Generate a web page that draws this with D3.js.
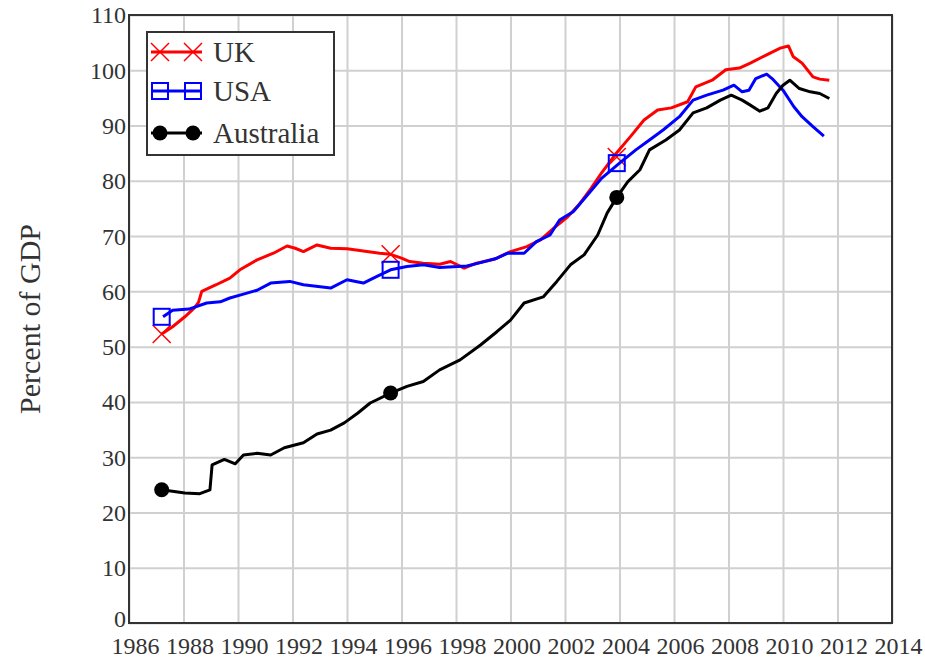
<!DOCTYPE html>
<html>
<head>
<meta charset="utf-8">
<script src="https://cdn.jsdelivr.net/npm/d3@7"></script>
<style>
  body { margin: 0; background: #fff; }
  svg text { font-family: "Liberation Serif", "Times New Roman", serif; fill: #333; }
</style>
</head>
<body>
<div id="viewport"></div>
<script>
// series data [year, percent of GDP]
var ukData = [
  [1987.2, 52.3], [1987.6, 53.6], [1988.05, 55.4], [1988.4, 57.0], [1988.55, 58.0],
  [1988.67, 60.0], [1989.2, 61.2], [1989.7, 62.4], [1990.07, 63.9], [1990.7, 65.7],
  [1991.3, 66.9], [1991.8, 68.2], [1992.1, 67.8], [1992.4, 67.2], [1992.9, 68.4],
  [1993.4, 67.8], [1994.0, 67.7], [1994.6, 67.3], [1995.2, 66.9], [1995.6, 66.7],
  [1996.0, 66.0], [1996.3, 65.4], [1996.8, 65.1], [1997.4, 64.9], [1997.8, 65.4],
  [1998.3, 64.2], [1998.75, 65.1], [1999.4, 65.8], [2000.0, 67.2], [2000.6, 68.1],
  [2001.1, 69.3], [2001.6, 71.5], [2002.1, 73.5], [2002.5, 75.6], [2002.95, 78.6],
  [2003.35, 81.5], [2003.85, 84.8], [2004.4, 88.0], [2004.9, 91.0], [2005.4, 92.8],
  [2005.9, 93.2], [2006.5, 94.3], [2006.8, 97.0], [2007.4, 98.2], [2007.9, 100.1],
  [2008.4, 100.4], [2008.8, 101.3], [2009.4, 102.8], [2009.9, 104.0], [2010.2, 104.4],
  [2010.37, 102.5], [2010.7, 101.3], [2011.1, 98.8], [2011.35, 98.4], [2011.7, 98.2]
];
var usaData = [
  [1987.25, 55.4], [1987.6, 56.6], [1988.2, 56.8], [1988.85, 57.9], [1989.35, 58.1],
  [1989.7, 58.8], [1990.2, 59.5], [1990.7, 60.2], [1991.2, 61.5], [1991.9, 61.8],
  [1992.4, 61.2], [1993.4, 60.6], [1994.0, 62.1], [1994.6, 61.5], [1995.1, 62.7],
  [1995.6, 63.9], [1996.2, 64.5], [1996.8, 64.8], [1997.4, 64.3], [1998.4, 64.6],
  [1998.9, 65.2], [1999.5, 66.0], [1999.9, 66.9], [2000.5, 66.9], [2000.95, 69.0],
  [2001.45, 70.2], [2001.8, 72.9], [2002.3, 74.4], [2002.8, 77.3], [2003.35, 80.5],
  [2004.0, 83.2], [2004.6, 85.6], [2005.1, 87.4], [2005.6, 89.2], [2006.2, 91.6],
  [2006.7, 94.6], [2007.2, 95.5], [2007.8, 96.4], [2008.2, 97.3], [2008.5, 96.1],
  [2008.75, 96.4], [2009.0, 98.5], [2009.4, 99.3], [2009.6, 98.5], [2010.0, 96.4],
  [2010.4, 93.4], [2010.7, 91.6], [2011.1, 89.8], [2011.5, 88.1]
];
var ausData = [
  [1987.2, 24.1], [1988.05, 23.5], [1988.6, 23.4], [1988.97, 24.1], [1989.05, 28.6],
  [1989.5, 29.6], [1989.9, 28.8], [1990.2, 30.4], [1990.7, 30.7], [1991.2, 30.4],
  [1991.7, 31.7], [1992.4, 32.6], [1992.9, 34.2], [1993.4, 34.9], [1993.9, 36.2],
  [1994.4, 38.0], [1994.85, 39.8], [1995.6, 41.6], [1996.2, 42.8], [1996.8, 43.7],
  [1997.4, 45.8], [1998.15, 47.6], [1998.9, 50.3], [1999.5, 52.7], [2000.0, 54.8],
  [2000.5, 57.9], [2001.2, 59.0], [2001.7, 61.8], [2002.2, 64.8], [2002.7, 66.6],
  [2003.2, 70.2], [2003.55, 74.2], [2003.9, 77.0], [2004.3, 79.8], [2004.75, 82.0],
  [2005.1, 85.6], [2005.7, 87.4], [2006.2, 89.2], [2006.7, 92.3], [2007.2, 93.2],
  [2007.7, 94.6], [2008.1, 95.5], [2008.5, 94.6], [2008.8, 93.7], [2009.15, 92.6],
  [2009.45, 93.2], [2009.75, 95.8], [2010.0, 97.3], [2010.25, 98.2], [2010.6, 96.7],
  [2011.0, 96.1], [2011.35, 95.8], [2011.7, 94.9]
];

// marker points drawn on the lines
var markerYears = [1987.2, 1995.6, 2003.9];
var ukMarkers = [52.3, 66.7, 84.3];
var usaMarkers = [55.4, 63.9, 83.2];
var ausMarkers = [24.1, 41.6, 77.0];

var xTicks = d3.range(1986, 2015, 2);
var yTicks = d3.range(0, 111, 10);
var seriesNames = ["UK", "USA", "Australia"];

var margin = {top: 15, right: 33, bottom: 36, left: 129},
    width = 925 - margin.left - margin.right,
    height = 659 - margin.top - margin.bottom;

var x = d3.scaleLinear().domain([1986, 2014]).range([0, width]),
    y = d3.scaleLinear().domain([0, 110]).range([height, 0]);

var svg = d3.select("#viewport").append("svg")
    .attr("width", 925)
    .attr("height", 659);

var g = svg.append("g")
    .attr("transform", "translate(" + margin.left + "," + margin.top + ")");

// grid
g.append("g")
    .attr("class", "grid")
    .attr("transform", "translate(0," + height + ")")
    .call(d3.axisBottom(x).tickValues(xTicks).tickSize(-height).tickFormat(""));
g.append("g")
    .attr("class", "grid")
    .call(d3.axisLeft(y).tickValues(yTicks).tickSize(-width).tickFormat(""));
g.selectAll(".grid .domain").remove();
g.selectAll(".grid line").attr("stroke", "#d0d0d0").attr("stroke-width", 2);

// tick labels
var xAxis = g.append("g")
    .attr("transform", "translate(0," + height + ")")
    .call(d3.axisBottom(x).tickValues(xTicks).tickSize(0).tickFormat(d3.format("d")));
xAxis.selectAll("text")
    .attr("font-size", 24)
    .attr("dx", 6)
    .attr("dy", 0)
    .attr("y", 31);

var yAxis = g.append("g")
    .call(d3.axisLeft(y).tickValues(yTicks).tickSize(0));
yAxis.selectAll("text")
    .attr("font-size", 24)
    .attr("x", -3)
    .attr("dy", function(d) { return d == 0 ? "0.15em" : "0.33em"; });
svg.selectAll(".domain").remove();

svg.append("text")
    .attr("transform", "translate(40," + (margin.top + height / 2) + ") rotate(-90)")
    .attr("text-anchor", "middle")
    .attr("font-size", 30)
    .text("Percent of GDP");

// lines
var line = d3.line()
    .x(function(d) { return x(d[0]); })
    .y(function(d) { return y(d[1]); });

var series = [
  {name: seriesNames[0], data: ukData, markers: ukMarkers, color: "#ff0000", shape: "cross"},
  {name: seriesNames[1], data: usaData, markers: usaMarkers, color: "#0000ff", shape: "square"},
  {name: seriesNames[2], data: ausData, markers: ausMarkers, color: "#000000", shape: "dot"}
];

function drawMarker(sel, shape, color) {
    if (shape == "cross") {
        sel.append("path")
            .attr("d", "M-9,-9L9,9M-9,9L9,-9")
            .attr("stroke", color).attr("stroke-width", 1.5).attr("fill", "none");
    } else if (shape == "square") {
        sel.append("rect")
            .attr("x", -8).attr("y", -8).attr("width", 16).attr("height", 16)
            .attr("stroke", color).attr("stroke-width", 2).attr("fill", "none");
    } else {
        sel.append("circle")
            .attr("r", 7.5)
            .attr("fill", color);
    }
}

series.forEach(function(s) {
    g.append("path")
        .datum(s.data)
        .attr("fill", "none")
        .attr("stroke", s.color)
        .attr("stroke-width", 3)
        .attr("stroke-linejoin", "round")
        .attr("d", line);

    g.selectAll(null)
        .data(s.markers)
        .enter().append("g")
        .attr("transform", function(d, i) { return "translate(" + x(markerYears[i]) + "," + y(d) + ")"; })
        .each(function() { drawMarker(d3.select(this), s.shape, s.color); });
});

// frame
g.append("rect")
    .attr("width", width)
    .attr("height", height)
    .attr("fill", "none")
    .attr("stroke", "#333")
    .attr("stroke-width", 2);

// legend
var legend = svg.append("g").attr("transform", "translate(147,32)");
legend.append("rect")
    .attr("width", 187)
    .attr("height", 123)
    .attr("fill", "#fff")
    .attr("stroke", "#333")
    .attr("stroke-width", 2);

var rowY = [20, 59, 101];
series.forEach(function(s, i) {
    var row = legend.append("g").attr("transform", "translate(0," + rowY[i] + ")");
    row.append("line")
        .attr("x1", 4).attr("x2", 55)
        .attr("stroke", s.color).attr("stroke-width", 3);
    [13, 46].forEach(function(mx) {
        drawMarker(row.append("g").attr("transform", "translate(" + mx + ",0)"), s.shape, s.color);
    });
    row.append("text")
        .attr("x", 66)
        .attr("dy", "0.35em")
        .attr("font-size", 29)
        .attr("fill", "#111")
        .text(s.name);
});
</script>
</body>
</html>
